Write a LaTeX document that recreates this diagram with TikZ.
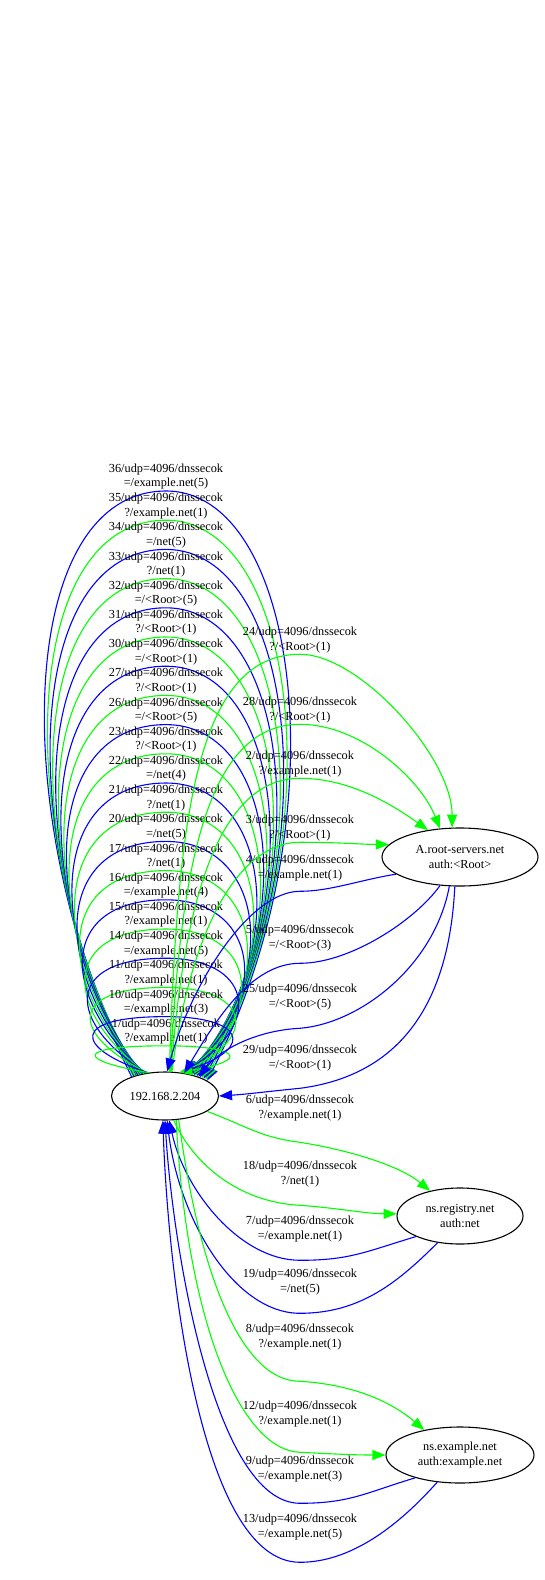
\documentclass[tikz,border=0pt]{standalone}
\usepackage{fontspec}
\setmainfont{Liberation Serif}
\usetikzlibrary{shapes.geometric, arrows.meta}
\definecolor{qgreen}{RGB}{0,255,0}
\definecolor{rblue}{RGB}{0,0,255}

\begin{document}
\begin{tikzpicture}[x=1pt, y=-1pt, ->, >={Triangle[length=13pt, width=10pt]}, line width=1.1pt,
    host/.style={ellipse, draw, inner sep=0pt, align=center, font=\fontsize{12.3}{14.3}\selectfont},
    lbl/.style={align=center, inner sep=1pt, font=\fontsize{12.3}{14.3}\selectfont},
    query/.style={qgreen}, reply/.style={rblue}]
    \useasboundingbox (0,0) rectangle (544,1580);

    \node[host, minimum width=107pt, minimum height=48pt] (client) at (165,1096) {192.168.2.204};
    \node[host, minimum width=156pt, minimum height=58pt] (root) at (460,857) {A.root-servers.net\\auth:<Root>};
    \node[host, minimum width=126pt, minimum height=56pt] (registry) at (460,1216) {ns.registry.net\\auth:net};
    \node[host, minimum width=148pt, minimum height=56pt] (example) at (460,1455) {ns.example.net\\auth:example.net};

    \foreach \n/\q/\s [count=\j from 0] in {36/{=/example.net(5)}/reply, 35/{?/example.net(1)}/query,
        34/{=/net(5)}/reply, 33/{?/net(1)}/query, 32/{=/<Root>(5)}/reply, 31/{?/<Root>(1)}/query,
        30/{=/<Root>(1)}/reply, 27/{?/<Root>(1)}/query, 26/{=/<Root>(5)}/reply, 23/{?/<Root>(1)}/query,
        22/{=/net(4)}/reply, 21/{?/net(1)}/query, 20/{=/net(5)}/reply, 17/{?/net(1)}/query,
        16/{=/example.net(4)}/reply, 15/{?/example.net(1)}/query, 14/{=/example.net(5)}/reply,
        11/{?/example.net(1)}/query, 10/{=/example.net(3)}/reply, 1/{?/example.net(1)}/query}{
        \pgfmathsetmacro\lpy{491+29.2*\j}
        \pgfmathsetmacro\lh{1073-\lpy}
        \pgfmathtruncatemacro\lsa{150-1.3*\j}
        \pgfmathtruncatemacro\lea{20+2.1*\j}
        \pgfmathsetmacro\lax{70+0.1*\lh}
        \pgfmathsetmacro\lby{0.45*\lh}
        \pgfmathsetmacro\lcx{90+0.1*\lh}
        \pgfmathsetmacro\lrx{70+0.11*\lh}
        \node[lbl, anchor=south] (l\n) at (166,\lpy) {\n/udp=4096/dnssecok\\\q};
        \draw[\s] (client.\lsa) .. controls +(-\lax,-\lby) and +(-\lcx,0) .. (l\n.south)
            .. controls +(\lrx,0) and +(\lrx,-\lby) .. (client.\lea);
    }

    \node[lbl] (l24) at (300,640) {24/udp=4096/dnssecok\\?/<Root>(1)};
    \node[lbl] (l28) at (300,710) {28/udp=4096/dnssecok\\?/<Root>(1)};
    \node[lbl] (l2) at (300,764) {2/udp=4096/dnssecok\\?/example.net(1)};
    \node[lbl] (l3) at (300,828) {3/udp=4096/dnssecok\\?/<Root>(1)};
    \node[lbl] (l4) at (300,868) {4/udp=4096/dnssecok\\=/example.net(1)};
    \node[lbl] (l5) at (300,938) {5/udp=4096/dnssecok\\=/<Root>(3)};
    \node[lbl] (l25) at (300,997) {25/udp=4096/dnssecok\\=/<Root>(5)};
    \node[lbl] (l29) at (300,1058) {29/udp=4096/dnssecok\\=/<Root>(1)};
    \node[lbl] (l6) at (300,1108) {6/udp=4096/dnssecok\\?/example.net(1)};
    \node[lbl] (l18) at (300,1174) {18/udp=4096/dnssecok\\?/net(1)};
    \node[lbl] (l7) at (300,1229) {7/udp=4096/dnssecok\\=/example.net(1)};
    \node[lbl] (l19) at (300,1282) {19/udp=4096/dnssecok\\=/net(5)};
    \node[lbl] (l8) at (300,1337) {8/udp=4096/dnssecok\\?/example.net(1)};
    \node[lbl] (l12) at (300,1414) {12/udp=4096/dnssecok\\?/example.net(1)};
    \node[lbl] (l9) at (300,1469) {9/udp=4096/dnssecok\\=/example.net(3)};
    \node[lbl] (l13) at (300,1527) {13/udp=4096/dnssecok\\=/example.net(5)};

    \draw[query] (client.80) .. controls +(8,-250) and +(-105,0) .. (l24.south) .. controls +(60,0) and +(0,-70) .. (root.105);
    \draw[query] (client.78) .. controls +(10,-200) and +(-95,0) .. (l28.south) .. controls +(60,0) and +(-20,-50) .. (root.125);
    \draw[query] (client.76) .. controls +(12,-160) and +(-85,0) .. (l2.south) .. controls +(50,0) and +(-35,-25) .. (root.140);
    \draw[query] (client.74) .. controls +(15,-120) and +(-70,0) .. (l3.south) .. controls +(40,0) and +(-25,0) .. (root.170);
    \draw[reply] (root.195) .. controls +(-37,6) and +(30,0) .. ([yshift=-9pt]l4.south) .. controls +(-50,0) and +(25,-90) .. (client.85);
    \draw[reply] (root.235) .. controls +(-25,35) and +(50,0) .. ([yshift=-11pt]l5.south) .. controls +(-50,0) and +(30,-50) .. (client.50);
    \draw[reply] (root.250) .. controls +(-15,80) and +(60,-5) .. ([yshift=-17pt]l25.south) .. controls +(-40,2) and +(25,-30) .. (client.30);
    \draw[reply] (root.260) .. controls +(-7,144) and +(77,-10) .. ([yshift=-16pt]l29.south) .. controls +(-40,4) and +(30,-2) .. (client.east);

    \draw[query] (client.340) .. controls +(40,15) and +(-40,-5) .. ([yshift=-20pt]l6.south) .. controls +(50,8) and +(-30,-25) .. (registry.140);
    \draw[query] (client.290) .. controls +(20,45) and +(-60,-3) .. ([yshift=-17pt]l18.south) .. controls +(40,3) and +(-30,0) .. (registry.178);
    \draw[reply] (registry.205) .. controls +(-50,15) and +(50,0) .. ([yshift=-17pt]l7.south) .. controls +(-60,0) and +(15,70) .. (client.280);
    \draw[reply] (registry.230) .. controls +(-40,40) and +(60,0) .. ([yshift=-17pt]l19.south) .. controls +(-65,0) and +(12,100) .. (client.275);

    \draw[query] (client.300) .. controls +(20,150) and +(-60,0) .. ([yshift=-30pt]l8.south) .. controls +(50,3) and +(-35,-30) .. (example.145);
    \draw[query] (client.295) .. controls +(10,200) and +(-60,-2) .. ([yshift=-24pt]l12.south) .. controls +(40,2) and +(-30,0) .. (example.180);
    \draw[reply] (example.207) .. controls +(-50,15) and +(50,0) .. ([yshift=-20pt]l9.south) .. controls +(-85,0) and +(8,130) .. (client.270);
    \draw[reply] (example.230) .. controls +(-40,45) and +(50,0) .. ([yshift=-21pt]l13.south) .. controls +(-100,0) and +(5,150) .. (client.265);
\end{tikzpicture}
\end{document}
